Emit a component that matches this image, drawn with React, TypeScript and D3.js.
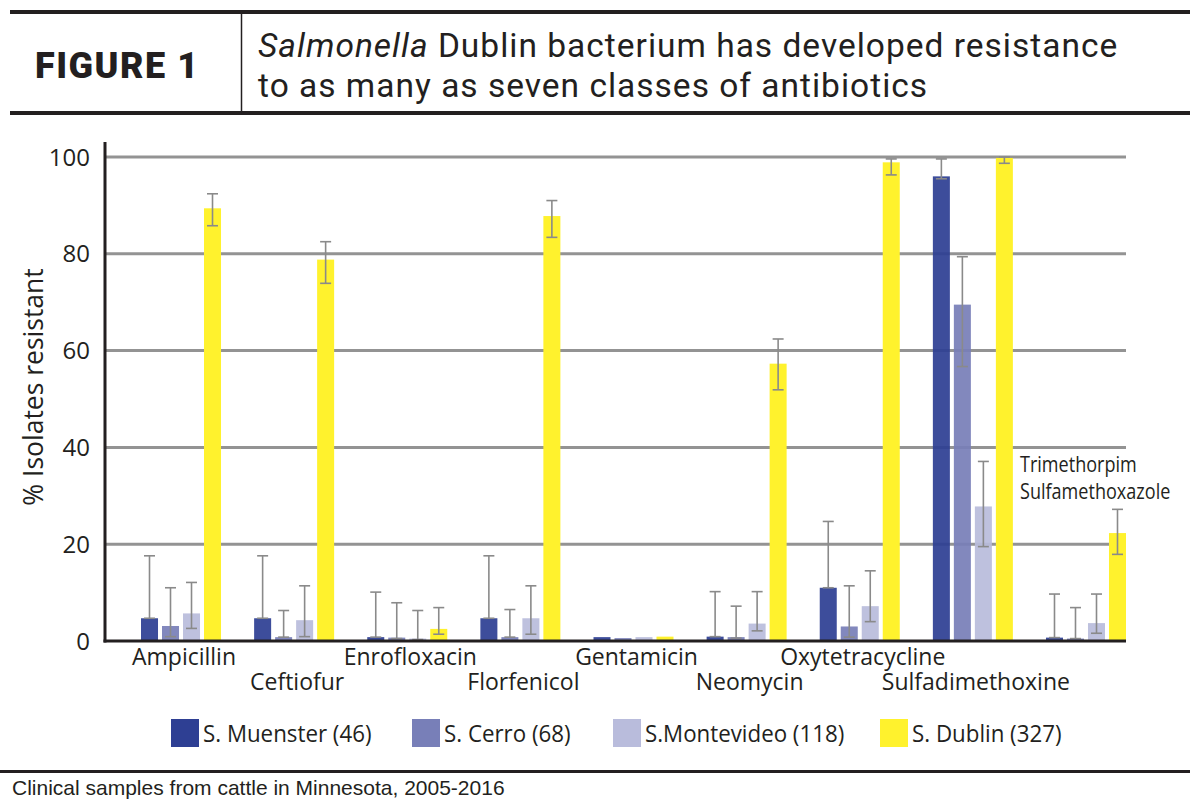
import React from 'react';
import * as d3 from 'd3';

// antibiotic classes along the x axis
const categories = [
  'Ampicillin',
  'Ceftiofur',
  'Enrofloxacin',
  'Florfenicol',
  'Gentamicin',
  'Neomycin',
  'Oxytetracycline',
  'Sulfadimethoxine',
  'Trimethoprim-Sulfamethoxazole',
];
// the last class is written as two lines above its bars
const lastLabelLines = ['Trimethorpim', 'Sulfamethoxazole'];

const seriesNames = ['S. Muenster (46)', 'S. Cerro (68)', 'S.Montevideo (118)', 'S. Dublin (327)'];
const seriesColors = ['#2e3f93', '#787fb8', '#b9bcdc', '#fff22d'];

// % of isolates resistant
const muenster = [4.7, 4.7, 0.8, 4.7, 0.8, 0.9, 11.0, 96.0, 0.7];
const cerro = [3.1, 0.8, 0.7, 0.8, 0.6, 0.8, 3.0, 69.5, 0.5];
const montevideo = [5.7, 4.3, 0.5, 4.7, 0.8, 3.6, 7.2, 27.8, 3.7];
const dublin = [89.4, 78.8, 2.5, 87.8, 0.9, 57.3, 98.9, 99.8, 22.3];

// confidence limits (null = no error bar drawn)
const muensterLo = [4.7, 4.7, 0.8, 4.7, null, 0.9, 11.0, 95.5, 0.7];
const muensterHi = [17.6, 17.6, 10.1, 17.6, null, 10.2, 24.7, 99.6, 9.7];
const cerroLo = [0.9, 0.8, 0.5, 0.8, null, 0.6, 0.8, 56.7, 0.5];
const cerroHi = [11.0, 6.3, 7.9, 6.5, null, 7.2, 11.4, 79.4, 6.9];
const montevideoLo = [2.6, 0.9, 0.3, 1.4, null, 2.1, 4.0, 19.5, 1.6];
const montevideoHi = [12.1, 11.4, 6.3, 11.4, null, 10.2, 14.5, 37.1, 9.7];
const dublinLo = [85.8, 73.9, 1.4, 83.4, null, 51.9, 96.3, 98.7, 17.9];
const dublinHi = [92.4, 82.5, 6.9, 91.0, null, 62.4, 99.6, 100, 27.2];

const yTicks = [0, 20, 40, 60, 80, 100];

const seriesValues = [muenster, cerro, montevideo, dublin];
const seriesLo = [muensterLo, cerroLo, montevideoLo, dublinLo];
const seriesHi = [muensterHi, cerroHi, montevideoHi, dublinHi];

const W = 1200;
const H = 805;
const ink = '#231f20';
const gridGrey = '#939393';
const errGrey = '#8a8a8a';
const sans = "'Open Sans', 'Noto Sans', sans-serif";

export default function App() {
  const axisX = 105;
  const plotRight = 1126;

  const y = d3.scaleLinear().domain([0, 100]).range([641, 157]);

  const x = d3
    .scaleBand<string>()
    .domain(categories)
    .range([141, plotRight])
    .paddingInner(0.2927)
    .paddingOuter(0);

  const xs = d3
    .scaleBand<string>()
    .domain(seriesNames)
    .range([0, x.bandwidth()])
    .paddingInner(0.19);

  const bw = xs.bandwidth();

  return (
    <svg
      width={W}
      height={H}
      viewBox={`0 0 ${W} ${H}`}
      style={{ position: 'absolute', left: 0, top: 0, background: '#fff' }}
    >
      {/* header */}
      <line x1={10} x2={1190} y1={12} y2={12} stroke={ink} strokeWidth={4} />
      <line x1={10} x2={1190} y1={113} y2={113} stroke={ink} strokeWidth={4} />
      <line x1={241.5} x2={241.5} y1={14} y2={111} stroke={ink} strokeWidth={1.5} />
      <text
        x={35}
        y={78}
        fontFamily="Roboto, sans-serif"
        fontWeight={900}
        fontSize={36}
        letterSpacing={1.5}
        fill={ink}
      >
        FIGURE 1
      </text>
      <text x={258} y={57} fontFamily="Roboto, sans-serif" fontSize={33.5} letterSpacing={1} fill={ink}>
        <tspan fontStyle="italic">Salmonella</tspan> Dublin bacterium has developed resistance
      </text>
      <text x={258} y={97} fontFamily="Roboto, sans-serif" fontSize={33.5} letterSpacing={1} fill={ink}>
        to as many as seven classes of antibiotics
      </text>

      {/* grid */}
      {yTicks.filter((t) => t > 0).map((t) => (
        <line key={t} x1={axisX} x2={plotRight} y1={y(t)} y2={y(t)} stroke={gridGrey} strokeWidth={3} />
      ))}

      {/* y tick labels */}
      {yTicks.map((t) => (
        <text
          key={t}
          x={90}
          y={y(t)}
          dy="0.36em"
          textAnchor="end"
          fontFamily={sans}
          fontSize={24}
          fill={ink}
        >
          {t}
        </text>
      ))}

      <text
        transform={`translate(43,387) rotate(-90)`}
        textAnchor="middle"
        fontFamily={sans}
        fontSize={26.5}
        fill={ink}
      >
        % Isolates resistant
      </text>

      {/* bars */}
      {categories.map((c, ci) => (
        <g key={c} transform={`translate(${x(c)},0)`}>
          {seriesNames.map((s, si) => {
            const v = seriesValues[si][ci];
            return (
              <rect
                key={s}
                x={xs(s)}
                y={y(v)}
                width={bw}
                height={y(0) - y(v)}
                fill={seriesColors[si]}
                fillOpacity={si < 3 ? 0.93 : 1}
              />
            );
          })}
          {seriesNames.map((s, si) => {
            const lo = seriesLo[si][ci];
            const hi = seriesHi[si][ci];
            if (lo == null || hi == null) return null;
            const cx = (xs(s) as number) + bw / 2;
            return (
              <g key={s} stroke={errGrey} strokeWidth={1.6}>
                <line x1={cx} x2={cx} y1={y(lo)} y2={y(hi)} />
                <line x1={cx - 5.5} x2={cx + 5.5} y1={y(hi)} y2={y(hi)} />
                <line x1={cx - 5.5} x2={cx + 5.5} y1={y(lo)} y2={y(lo)} />
              </g>
            );
          })}
        </g>
      ))}

      {/* axes */}
      <line x1={axisX} x2={axisX} y1={142} y2={y(0) + 1.5} stroke={ink} strokeWidth={3} />
      <line x1={axisX - 1.5} x2={plotRight} y1={y(0)} y2={y(0)} stroke={ink} strokeWidth={3} />

      {/* category labels, alternating rows */}
      {categories.slice(0, -1).map((c, ci) => (
        <text
          key={c}
          x={(x(c) as number) + x.bandwidth() / 2 + 3}
          y={ci % 2 === 0 ? 665 : 690}
          textAnchor="middle"
          fontFamily={sans}
          fontSize={23}
          fill={ink}
        >
          {c}
        </text>
      ))}
      {lastLabelLines.map((line, i) => (
        <text
          key={line}
          transform={`translate(${(x(categories[categories.length - 1]) as number) - 26},${472 + i * 27}) scale(0.86,1)`}
          fontFamily={sans}
          fontSize={21}
          fill={ink}
        >
          {line}
        </text>
      ))}

      {/* legend */}
      {seriesNames.map((s, si) => {
        const lx = [171, 412, 613, 880][si];
        return (
          <g key={s}>
            <rect x={lx} y={719} width={28} height={28} fill={seriesColors[si]} />
            <text
              transform={`translate(${lx + 32},742) scale(0.93,1)`}
              fontFamily={sans}
              fontSize={24}
              fill={ink}
            >
              {s}
            </text>
          </g>
        );
      })}

      {/* footer */}
      <line x1={0} x2={1190} y1={771.5} y2={771.5} stroke={ink} strokeWidth={3} />
      <text x={12} y={795} fontFamily="'Liberation Sans', Arial, sans-serif" fontSize={21} fill={ink}>
        Clinical samples from cattle in Minnesota, 2005-2016
      </text>
    </svg>
  );
}
